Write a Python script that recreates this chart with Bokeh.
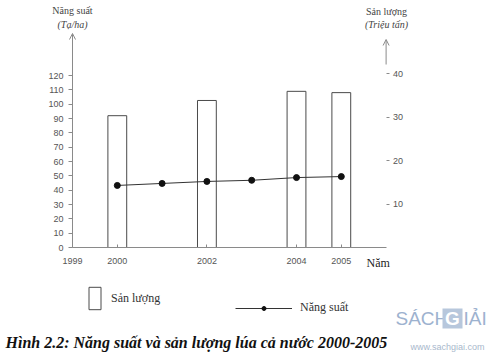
from bokeh.plotting import figure
from bokeh.models import (Range1d, LinearAxis, FixedTicker, Label, Arrow, OpenHead,
                          Legend, LegendItem, BoxAnnotation)
from bokeh.embed import file_html
from bokeh.resources import INLINE

# ---- data ----
bar_years = [2000, 2002, 2004, 2005]
san_luong = [30.3, 33.8, 35.9, 35.6]          # triệu tấn (right axis)
line_years = [2000, 2001, 2002, 2003, 2004, 2005]
nang_suat = [43.3, 44.7, 46.1, 46.9, 48.8, 49.5]  # tạ/ha (left axis)
x_ticks = [1999, 2000, 2002, 2004, 2005]
left_ticks = [0, 10, 20, 30, 40, 50, 60, 70, 80, 90, 100, 110, 120]
right_ticks = [10, 20, 30, 40]

# ---- geometry (canvas pixels, page origin) ----
W, H = 497, 358
X0_PX = 72.0        # x of year 1999
PX_PER_YEAR = 44.8
Y0_PX = 247.0       # y (from top) of value 0
PX_LEFT = 1.433     # px per tạ/ha
PX_RIGHT = 4.35     # px per triệu tấn

xs = 1999 - X0_PX / PX_PER_YEAR
xe = xs + W / PX_PER_YEAR
ys = -(H - Y0_PX) / PX_LEFT
ye = Y0_PX / PX_LEFT
rs = -(H - Y0_PX) / PX_RIGHT
re_ = Y0_PX / PX_RIGHT

def dx(px):
    return 1999 + (px - X0_PX) / PX_PER_YEAR

def dy(py):
    return (Y0_PX - py) / PX_LEFT

def dr(py):
    return (Y0_PX - py) / PX_RIGHT

p = figure(width=W, height=H, output_backend="svg", toolbar_location=None,
           x_range=Range1d(xs, xe), y_range=Range1d(ys, ye),
           min_border=0, x_axis_type=None, y_axis_type=None)
p.extra_y_ranges = {"right": Range1d(rs, re_)}
p.outline_line_color = None
p.background_fill_color = "white"
p.border_fill_color = "white"
p.grid.visible = False

AX = "#8a8a8a"
TXT = "#555555"

# left axis
la = LinearAxis(fixed_location=1999, bounds=(0, dy(40)),
                ticker=FixedTicker(ticks=left_ticks))
la.axis_line_color = AX
la.major_tick_line_color = AX
la.major_tick_out = 4
la.major_tick_in = 0
la.minor_tick_line_color = None
la.major_label_standoff = 5
la.major_label_text_font = "Liberation Sans"
la.major_label_text_font_size = "9px"
la.major_label_text_color = TXT
p.add_layout(la, "left")

# bottom axis
ba = LinearAxis(fixed_location=0, bounds=(1999, 2006),
                ticker=FixedTicker(ticks=x_ticks))
ba.axis_line_color = AX
ba.major_tick_line_color = AX
ba.major_tick_out = 0
ba.major_tick_in = 3
ba.minor_tick_line_color = None
ba.major_label_standoff = 10
ba.major_label_text_font = "Liberation Sans"
ba.major_label_text_font_size = "9px"
ba.major_label_text_color = TXT
p.add_layout(ba, "below")

# right axis
ra = LinearAxis(fixed_location=2006, y_range_name="right", bounds=(0, 45),
                ticker=FixedTicker(ticks=right_ticks))
ra.axis_line_color = None
ra.major_tick_line_color = AX
ra.major_tick_out = 3
ra.major_tick_in = 0
ra.minor_tick_line_color = None
ra.major_label_standoff = 4
ra.major_label_text_font = "Liberation Sans"
ra.major_label_text_font_size = "9px"
ra.major_label_text_color = TXT
p.add_layout(ra, "right")

# axis arrows
p.add_layout(Arrow(x_start=1999, y_start=dy(60), x_end=1999, y_end=dy(33),
                   line_color=AX, line_width=1,
                   end=OpenHead(size=6, line_color=AX, line_width=1)))
p.add_layout(Arrow(x_start=2006, y_start=dr(64), x_end=2006, y_end=dr(39),
                   y_range_name="right", line_color=AX, line_width=1,
                   end=OpenHead(size=6, line_color=AX, line_width=1)))

# bars (sản lượng)
bars = p.vbar(x=bar_years, top=san_luong, bottom=0, width=0.42,
              y_range_name="right", fill_color="white", fill_alpha=0,
              line_color="#4a4a4a", line_width=1)

# line (năng suất)
ln = p.line(line_years, nang_suat, line_color="#333333", line_width=1)
pts = p.scatter(line_years, nang_suat, size=6, fill_color="#111111",
                line_color="#111111")

def lab(x, y, t, size="10px", style="normal", font="Liberation Serif",
        color="#444444", align="center", **kw):
    p.add_layout(Label(x=x, y=y, text=t, text_font=font, text_font_size=size,
                       text_font_style=style, text_color=color,
                       text_align=align, text_baseline="middle", **kw))

# axis titles
lab(1999, dy(10), "Năng suất")
lab(1999, dy(24), "(Tạ/ha)", style="italic")
lab(dx(386), dy(11), "Sản lượng")
lab(dx(386), dy(24), "(Triệu tấn)", style="italic")
lab(dx(366), dy(262), "Năm", size="12px", color="#222222", align="left")

# legends
leg1 = Legend(items=[LegendItem(label="Sản lượng", renderers=[bars])],
              location=(87, H - 312), orientation="horizontal",
              glyph_width=15, glyph_height=28, label_standoff=9,
              padding=0, margin=0, border_line_color=None,
              background_fill_alpha=0, label_text_font="Liberation Serif",
              label_text_font_size="12px", label_text_color="#333333",
              label_text_baseline="top", spacing=0)
leg2 = Legend(items=[LegendItem(label="Năng suất", renderers=[ln, pts])],
              location=(235, H - 315), orientation="horizontal",
              glyph_width=57, glyph_height=10, label_standoff=8,
              padding=0, margin=0, border_line_color=None,
              background_fill_alpha=0, label_text_font="Liberation Serif",
              label_text_font_size="12px", label_text_color="#333333",
              label_text_baseline="bottom", spacing=0)
p.add_layout(leg1)
p.add_layout(leg2)

# caption
lab(dx(5), dy(342), "Hình 2.2: Năng suất và sản lượng lúa cả nước 2000-2005",
    size="16px", style="bold italic", color="#111111", align="left")

# watermark
WM = "#9db2cf"
lab(dx(395), dy(318), "SÁCH", size="19px", font="Liberation Sans", color=WM,
    align="left")
p.add_layout(BoxAnnotation(left=dx(442), right=dx(462), bottom=dy(328), top=dy(308),
                           fill_color="#b7c7dc", fill_alpha=1, line_color=None))
lab(dx(452), dy(318), "G", size="19px", style="bold", font="Liberation Sans",
    color="white")
lab(dx(463), dy(318), "IẢI", size="19px", font="Liberation Sans", color=WM,
    align="left")
lab(dx(410), dy(346), "www.sachgiai.com", size="9px", font="Liberation Sans",
    color="#a8b8cc", align="left")

open("out.html", "w").write(file_html(p, INLINE))
